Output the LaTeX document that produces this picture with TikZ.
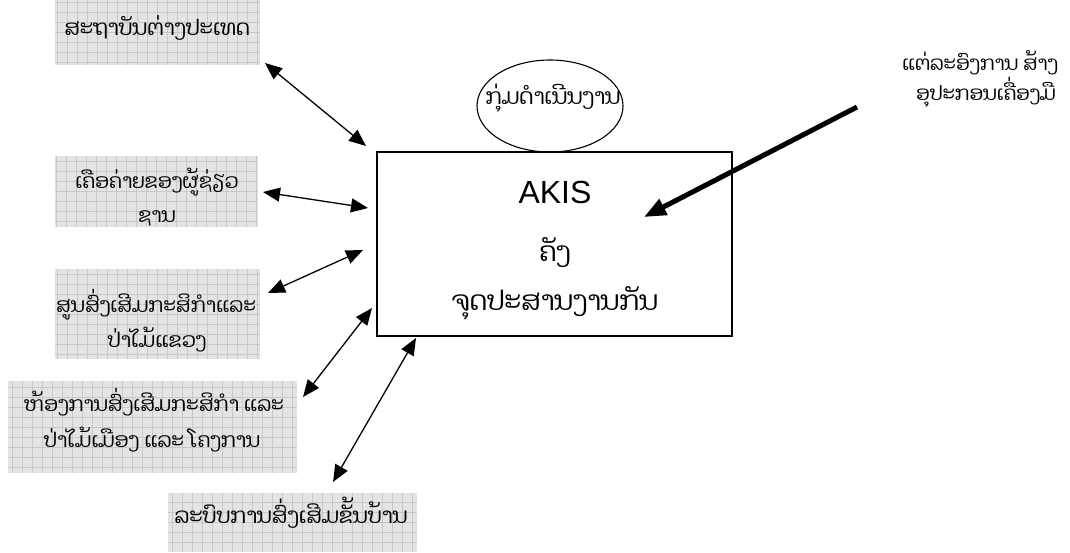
\documentclass[tikz,border=0pt]{standalone}
\usepackage{fontspec}
\usetikzlibrary{arrows.meta,shapes.geometric}
\newfontfamily\laofont[Script=Lao]{Dhyana}
\newfontfamily\arialfont{Liberation Sans}
\definecolor{gridfill}{HTML}{E4E4E4}
\definecolor{gridline}{HTML}{C8C8C8}
\tikzset{
  gridbox/.style={fill=gridfill, inner sep=0pt, outer sep=0pt,
    path picture={\draw[gridline, line width=0.6pt, step=10pt]
      (path picture bounding box.south west) grid (path picture bounding box.north east);}},
  laosmall/.style={font=\laofont\fontsize{20.3pt}{24pt}\selectfont, inner sep=0pt},
  laowide/.style={font=\laofont\fontsize{21.5pt}{24pt}\selectfont, inner sep=0pt},
  laoell/.style={font=\laofont\fontsize{22pt}{24pt}\selectfont, inner sep=0pt},
  laoright/.style={font=\laofont\fontsize{19.8pt}{24pt}\selectfont, inner sep=0pt},
  laobig/.style={font=\laofont\fontsize{27pt}{30pt}\selectfont, inner sep=0pt},
  dbl/.style={{Triangle[length=17pt,width=14pt]}-{Triangle[length=17pt,width=14pt]}, line width=1.3pt},
  thick arrow/.style={-{Triangle[length=22pt,width=17pt]}, line width=5pt},
}
\begin{document}
\begin{tikzpicture}[x=1pt,y=-1pt]
\useasboundingbox (0,0) rectangle (1070,552);
% grid boxes
\node[gridbox, minimum width=205pt, minimum height=65pt] (b1) at (157.5,32.5) {};
\node[gridbox, minimum width=203pt, minimum height=71pt] (b2) at (156.5,191.5) {};
\node[gridbox, minimum width=205pt, minimum height=90pt] (b3) at (157.5,314) {};
\node[gridbox, minimum width=289pt, minimum height=92pt] (b4) at (152.5,427) {};
\node[gridbox, minimum width=249pt, minimum height=59pt] (b5) at (292.5,522.5) {};
\node[laowide] (t1) at (157,28) {ສະຖາບັນຕ່າງປະເທດ};
\node[laosmall] (t2a) at (157,182) {ເຄືອຄ່າຍຂອງຜູ້ຊ່ຽວ};
\node[laosmall] (t2b) at (157,218) {ຊານ};
\node[laosmall] (t3a) at (156,305) {ສູນສົ່ງເສີມກະສິກຳແລະ};
\node[laosmall] (t3b) at (157,340) {ປ່າໄມ້ແຂວງ};
\node[laosmall] (t4a) at (154,402) {ຫ້ອງການສົ່ງເສີມກະສິກຳ ແລະ};
\node[laosmall] (t4b) at (152,440) {ປ່າໄມ້ເມືອງ ແລະ ໂຄງການ};
\node[laowide] (t5) at (291,513) {ລະບົບການສົ່ງເສີມຂັ້ນບ້ານ};
% main box
\node[draw, line width=1.5pt, minimum width=355pt, minimum height=184pt, inner sep=0pt] (main) at (554.5,244) {};
\node[font=\arialfont\fontsize{32pt}{36pt}\selectfont, inner sep=0pt] (akis) at (555,192) {AKIS};
\node[laobig] (kang) at (555,253) {ຄັງ};
\node[laobig] (jud) at (555,303) {ຈຸດປະສານງານກັນ};
% ellipse
\node[draw, ellipse, line width=1.1pt, minimum width=146pt, minimum height=92pt, inner sep=0pt] (ell) at (550,106) {};
\node[laoell] (et) at (553,98) {ກຸ່ມດຳເນີນງານ};
% right text
\node[laoright] (r1) at (980,63) {ແຕ່ລະອົງການ ສ້າງ};
\node[laoright] (r2) at (986,92) {ອຸປະກອນເຄື່ອງມື};
% arrow endpoints
\coordinate (a1s) at (265,63);  \coordinate (a1e) at (366,146);
\coordinate (a2s) at (263,192); \coordinate (a2e) at (368,208);
\coordinate (a3s) at (268,293); \coordinate (a3e) at (363,250);
\coordinate (a4s) at (303,397); \coordinate (a4e) at (372,308);
\coordinate (a5s) at (333,482); \coordinate (a5e) at (416,338);
\coordinate (ts) at (857,107);  \coordinate (te) at (644,217);
\draw[dbl] (a1s) -- (a1e);
\draw[dbl] (a2s) -- (a2e);
\draw[dbl] (a3s) -- (a3e);
\draw[dbl] (a4s) -- (a4e);
\draw[dbl] (a5s) -- (a5e);
\draw[thick arrow] (ts) -- (te);
\end{tikzpicture}
\end{document}
